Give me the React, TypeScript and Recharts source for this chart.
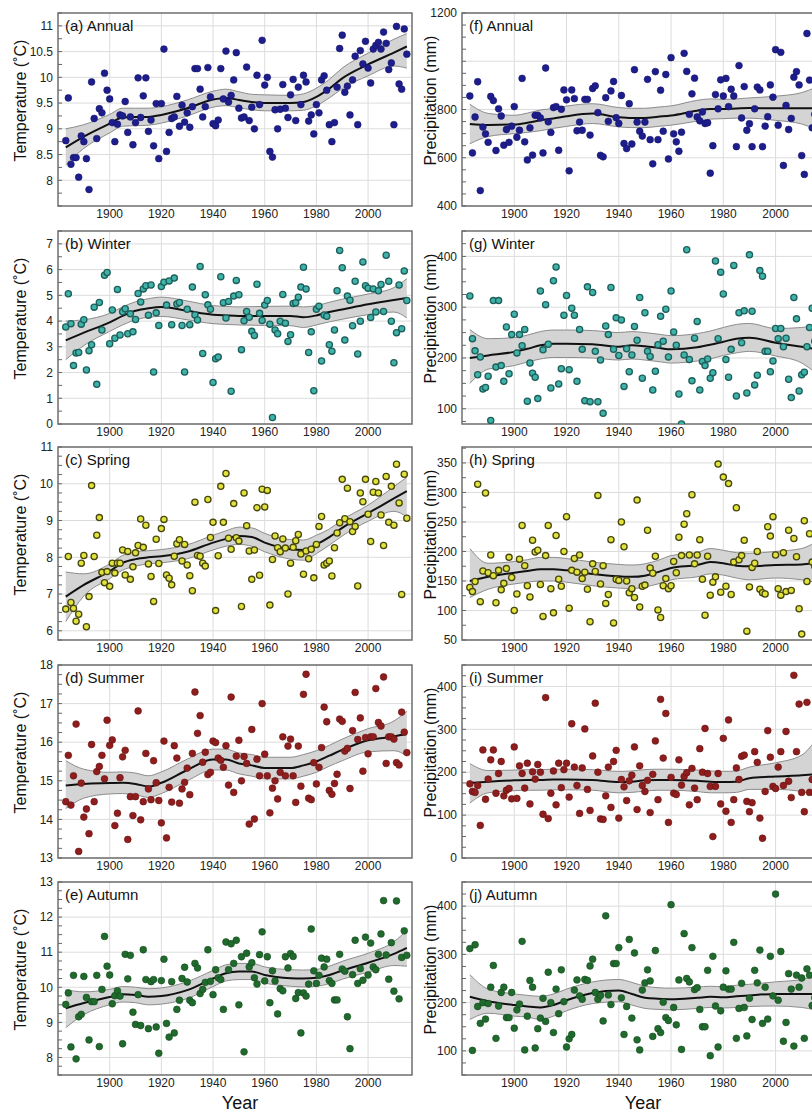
import React from 'react';
import { ComposedChart, Scatter, Line, Area, XAxis, YAxis, CartesianGrid, ReferenceArea } from 'recharts';

const FONT = '"Liberation Sans", Arial, Helvetica, sans-serif';
const FIRST_YEAR = 1883;
const X_DOMAIN: [number, number] = [1880, 2017];
const X_TICKS = [1900, 1920, 1940, 1960, 1980, 2000];
const KNOT_YEARS = [1883, 1890, 1900, 1905, 1910, 1915, 1920, 1930, 1940, 1945, 1950, 1955, 1960, 1970, 1975, 1980, 1985, 1990, 2000, 2010, 2015];

// ---------- Temperature (left column) ----------
const TEMP_ANNUAL = [
  8.77, 9.60, 8.31, 8.44, 8.44, 8.06, 8.86, 8.75, 8.42, 7.82,
  9.91, 9.20, 8.81, 9.39, 9.31, 10.08, 9.75, 9.58, 9.12, 8.75,
  9.09, 9.27, 9.25, 9.53, 8.93, 9.23, 8.69, 9.12, 9.99, 9.22,
  9.64, 9.99, 8.95, 9.17, 8.67, 9.49, 8.42, 9.49, 10.55, 8.56,
  8.93, 9.20, 9.23, 9.63, 9.05, 9.46, 9.13, 9.31, 9.03, 9.43,
  10.17, 10.17, 9.77, 9.23, 9.43, 10.19, 9.62, 9.10, 9.06, 9.17,
  10.17, 9.58, 10.51, 9.52, 9.65, 9.95, 10.48, 9.40, 9.21, 9.23,
  10.20, 9.16, 9.42, 9.00, 10.04, 9.47, 10.72, 9.85, 10.00, 8.56,
  8.45, 9.37, 9.00, 9.38, 9.86, 9.40, 9.22, 9.66, 9.96, 9.16,
  9.81, 9.47, 10.04, 9.91, 9.15, 9.27, 8.90, 9.47, 9.31, 9.95,
  10.03, 9.75, 9.08, 8.75, 9.12, 9.81, 10.56, 10.82, 9.71, 9.83,
  9.27, 9.95, 10.41, 9.08, 10.52, 10.26, 10.70, 10.18, 9.89, 10.55,
  10.62, 10.68, 10.55, 10.88, 10.66, 10.15, 10.28, 9.08, 10.99, 9.87,
  9.77, 10.94, 10.45,
];
const TEMP_ANNUAL_FIT = [8.64, 8.85, 9.10, 9.22, 9.23, 9.23, 9.27, 9.40, 9.57, 9.60, 9.56, 9.52, 9.50, 9.50, 9.52, 9.62, 9.78, 9.98, 10.25, 10.48, 10.60];
const TEMP_ANNUAL_LO = [8.30, 8.62, 8.92, 9.05, 9.06, 9.07, 9.11, 9.25, 9.42, 9.45, 9.41, 9.37, 9.35, 9.35, 9.36, 9.45, 9.60, 9.78, 10.03, 10.22, 10.18];
const TEMP_ANNUAL_HI = [9.00, 9.08, 9.28, 9.40, 9.40, 9.40, 9.43, 9.56, 9.73, 9.77, 9.72, 9.67, 9.66, 9.65, 9.68, 9.79, 9.96, 10.18, 10.47, 10.74, 10.85];

const TEMP_WINTER = [
  3.77, 5.06, 3.90, 2.27, 2.76, 2.78, 3.88, 4.05, 2.10, 2.85,
  3.08, 4.54, 1.54, 4.72, 3.65, 5.78, 5.89, 3.12, 4.43, 3.33,
  5.23, 3.46, 4.36, 4.48, 3.51, 4.28, 3.58, 4.06, 5.07, 4.74,
  5.25, 5.37, 4.23, 5.40, 2.02, 4.32, 3.83, 5.34, 5.51, 4.62,
  5.56, 3.86, 5.67, 4.66, 4.72, 3.83, 2.02, 4.46, 3.86, 5.32,
  4.24, 4.04, 6.12, 2.74, 5.02, 4.63, 4.46, 1.61, 2.54, 2.60,
  5.72, 4.71, 4.12, 4.76, 1.27, 4.97, 5.58, 5.02, 2.89, 4.01,
  4.37, 4.15, 3.60, 3.44, 5.43, 4.30, 4.02, 4.62, 4.80, 3.88,
  0.25, 3.65, 3.51, 3.99, 5.03, 3.92, 3.21, 3.47, 4.68, 4.71,
  4.93, 5.32, 6.09, 5.25, 2.78, 3.58, 1.29, 4.46, 4.58, 2.45,
  4.24, 4.19, 3.08, 2.83, 3.65, 5.18, 6.74, 6.07, 3.26, 4.97,
  4.81, 3.82, 5.55, 2.72, 3.99, 6.30, 5.37, 5.28, 4.14, 5.25,
  4.35, 5.18, 5.42, 4.37, 6.56, 5.55, 3.99, 2.38, 3.55, 5.40,
  3.70, 5.95, 4.80,
];
const TEMP_WINTER_FIT = [3.25, 3.55, 3.95, 4.20, 4.40, 4.50, 4.55, 4.40, 4.25, 4.22, 4.20, 4.20, 4.20, 4.20, 4.15, 4.22, 4.35, 4.45, 4.65, 4.82, 4.90];
const TEMP_WINTER_LO = [2.50, 3.05, 3.60, 3.85, 4.05, 4.15, 4.18, 4.05, 3.90, 3.87, 3.85, 3.84, 3.83, 3.82, 3.75, 3.85, 3.97, 4.07, 4.25, 4.35, 4.12];
const TEMP_WINTER_HI = [4.00, 4.05, 4.30, 4.55, 4.75, 4.87, 4.93, 4.78, 4.60, 4.57, 4.55, 4.56, 4.57, 4.58, 4.55, 4.60, 4.73, 4.85, 5.05, 5.30, 5.65];

const TEMP_SPRING = [
  6.59, 8.02, 6.77, 6.61, 6.26, 6.45, 7.84, 8.05, 6.11, 6.93,
  9.95, 8.02, 8.60, 9.08, 7.59, 7.31, 7.61, 7.21, 7.84, 7.57,
  7.84, 7.84, 8.20, 7.52, 8.16, 7.40, 7.74, 8.12, 8.32, 9.04,
  8.27, 8.87, 7.82, 7.48, 6.80, 8.49, 7.83, 8.78, 9.03, 7.52,
  7.43, 7.25, 8.03, 8.37, 8.48, 7.90, 8.35, 7.79, 7.50, 7.09,
  9.50, 8.05, 8.03, 7.84, 7.76, 9.57, 8.54, 8.95, 6.55, 8.04,
  9.93, 8.95, 10.28, 8.52, 8.22, 9.46, 8.53, 8.44, 6.66, 9.75,
  8.86, 8.17, 7.40, 8.20, 9.35, 7.51, 9.85, 9.37, 9.82, 6.70,
  7.94, 8.58, 8.26, 8.15, 8.50, 8.25, 7.00, 7.84, 8.27, 8.45,
  8.62, 8.09, 7.54, 8.17, 7.96, 8.22, 7.44, 8.35, 8.84, 9.11,
  7.79, 7.84, 7.90, 7.49, 8.26, 8.66, 8.94, 10.12, 9.05, 9.88,
  8.97, 8.70, 8.84, 7.22, 9.75, 9.51, 10.12, 9.17, 8.43, 9.77,
  10.06, 9.75, 9.15, 8.32, 10.20, 8.95, 9.93, 8.87, 10.53, 9.48,
  6.99, 10.26, 9.06,
];
const TEMP_SPRING_FIT = [6.93, 7.25, 7.62, 7.85, 7.95, 8.00, 8.03, 8.15, 8.40, 8.50, 8.58, 8.55, 8.40, 8.22, 8.20, 8.35, 8.55, 8.80, 9.20, 9.60, 9.80];
const TEMP_SPRING_LO = [6.25, 6.95, 7.42, 7.65, 7.76, 7.82, 7.85, 7.96, 8.20, 8.30, 8.35, 8.30, 8.15, 7.95, 7.92, 8.10, 8.33, 8.58, 8.98, 9.25, 9.10];
const TEMP_SPRING_HI = [7.60, 7.55, 7.82, 8.05, 8.15, 8.18, 8.21, 8.34, 8.60, 8.72, 8.82, 8.80, 8.65, 8.48, 8.47, 8.60, 8.77, 9.02, 9.42, 9.92, 10.18];

const TEMP_SUMMER = [
  14.46, 15.66, 14.37, 15.13, 16.47, 13.17, 14.94, 14.06, 14.27, 13.63,
  15.94, 14.46, 15.24, 15.37, 15.66, 15.05, 16.57, 15.92, 16.06, 13.84,
  14.16, 15.08, 15.62, 15.79, 13.48, 14.59, 14.10, 14.59, 16.81, 13.99,
  14.46, 15.71, 14.79, 14.51, 15.52, 14.95, 14.49, 13.91, 16.03, 13.52,
  14.83, 14.45, 15.91, 15.59, 14.42, 14.79, 14.96, 15.33, 14.64, 15.71,
  17.30, 16.23, 16.69, 15.48, 15.74, 15.16, 15.22, 16.03, 15.99, 15.59,
  15.53, 15.35, 15.91, 14.89, 17.17, 14.70, 15.64, 16.05, 15.00, 15.63,
  15.45, 13.88, 16.33, 14.01, 15.56, 15.13, 17.00, 15.69, 15.13, 14.17,
  14.81, 15.00, 14.53, 15.22, 16.14, 15.13, 15.90, 16.08, 15.13, 14.44,
  15.90, 14.86, 17.24, 17.76, 14.55, 14.51, 15.47, 14.92, 15.35, 15.86,
  16.91, 16.53, 14.75, 14.65, 14.93, 15.17, 16.60, 16.54, 15.77, 15.84,
  14.80, 16.30, 17.29, 16.07, 16.63, 15.25, 16.12, 15.70, 16.14, 16.14,
  17.39, 16.51, 16.42, 17.69, 15.45, 16.14, 16.14, 16.08, 15.47, 15.41,
  16.78, 16.26, 15.73,
];
const TEMP_SUMMER_FIT = [14.88, 14.92, 14.94, 14.95, 14.92, 14.85, 14.95, 15.28, 15.55, 15.55, 15.45, 15.40, 15.33, 15.33, 15.40, 15.50, 15.65, 15.80, 16.05, 16.15, 16.22];
const TEMP_SUMMER_LO = [14.28, 14.55, 14.66, 14.67, 14.64, 14.57, 14.67, 15.00, 15.28, 15.28, 15.18, 15.12, 15.05, 15.05, 15.12, 15.22, 15.38, 15.52, 15.75, 15.78, 15.65];
const TEMP_SUMMER_HI = [15.52, 15.30, 15.22, 15.23, 15.20, 15.13, 15.23, 15.56, 15.82, 15.82, 15.72, 15.68, 15.61, 15.61, 15.68, 15.78, 15.92, 16.08, 16.35, 16.55, 16.80];

const TEMP_AUTUMN = [
  9.51, 9.84, 8.30, 10.34, 7.96, 9.16, 9.23, 10.31, 9.71, 8.50,
  9.59, 9.59, 10.34, 8.31, 9.94, 11.45, 10.60, 10.35, 9.53, 9.76,
  9.90, 9.75, 8.39, 10.94, 10.24, 10.91, 9.29, 8.94, 9.79, 8.91,
  11.07, 10.22, 8.82, 10.16, 10.22, 8.87, 8.12, 10.19, 10.80, 8.97,
  8.58, 10.16, 8.70, 9.37, 9.63, 10.25, 10.57, 10.15, 9.63, 9.56,
  10.68, 10.55, 9.82, 9.94, 10.14, 11.07, 10.17, 9.79, 10.50, 10.27,
  10.22, 9.37, 11.29, 10.50, 11.24, 10.68, 11.34, 9.50, 10.87, 8.16,
  10.97, 10.58, 10.70, 10.27, 10.09, 10.93, 11.58, 10.18, 10.87, 9.56,
  10.47, 10.18, 9.24, 9.96, 9.90, 10.87, 10.55, 10.96, 10.88, 9.68,
  9.85, 8.70, 9.84, 9.75, 10.09, 11.66, 10.47, 10.11, 10.34, 10.83,
  10.58, 10.80, 10.19, 10.11, 9.64, 9.64, 10.94, 10.52, 10.46, 9.16,
  8.25, 10.36, 11.34, 10.11, 10.53, 10.20, 11.43, 10.35, 11.26, 10.58,
  10.50, 10.94, 11.52, 12.47, 10.92, 10.23, 11.27, 9.89, 12.46, 9.67,
  10.85, 11.61, 10.91,
];
const TEMP_AUTUMN_FIT = [9.40, 9.55, 9.72, 9.80, 9.78, 9.73, 9.75, 9.92, 10.25, 10.40, 10.45, 10.45, 10.35, 10.26, 10.25, 10.27, 10.35, 10.48, 10.70, 10.95, 11.12];
const TEMP_AUTUMN_LO = [8.85, 9.22, 9.50, 9.58, 9.56, 9.50, 9.52, 9.68, 10.02, 10.18, 10.22, 10.22, 10.12, 10.03, 10.01, 10.03, 10.10, 10.23, 10.43, 10.62, 10.60];
const TEMP_AUTUMN_HI = [9.93, 9.87, 9.94, 10.02, 10.00, 9.96, 9.98, 10.16, 10.48, 10.64, 10.68, 10.68, 10.58, 10.50, 10.49, 10.51, 10.60, 10.74, 10.97, 11.30, 11.62];

// ---------- Precipitation (right column) ----------
const PREC_ANNUAL = [
  856, 620, 769, 915, 464, 727, 699, 664, 854, 837,
  630, 803, 773, 652, 717, 664, 731, 812, 685, 714,
  929, 666, 591, 724, 611, 776, 776, 765, 620, 972,
  749, 705, 808, 812, 631, 801, 881, 840, 546, 881,
  845, 712, 748, 714, 842, 842, 694, 887, 898, 787,
  610, 604, 849, 751, 877, 916, 766, 742, 858, 659,
  638, 824, 657, 965, 748, 710, 690, 748, 925, 675,
  575, 957, 675, 880, 710, 945, 595, 1015, 699, 666,
  627, 706, 1033, 958, 780, 865, 930, 769, 753, 790,
  742, 745, 536, 650, 862, 803, 923, 856, 929, 812,
  884, 856, 646, 982, 765, 895, 714, 741, 646, 803,
  893, 881, 646, 731, 770, 902, 851, 1048, 735, 1037,
  568, 817, 717, 763, 934, 957, 902, 609, 531, 1115,
  922, 724, 780,
];
const PREC_ANNUAL_FIT = [740, 736, 738, 745, 755, 763, 772, 783, 768, 765, 765, 770, 775, 795, 802, 802, 804, 806, 805, 805, 805];
const PREC_ANNUAL_LO = [658, 688, 700, 705, 712, 722, 730, 742, 728, 725, 725, 730, 735, 752, 760, 762, 764, 764, 755, 740, 720];
const PREC_ANNUAL_HI = [822, 784, 776, 785, 798, 804, 814, 824, 808, 805, 805, 810, 815, 838, 844, 842, 844, 848, 855, 870, 890];

const PREC_WINTER = [
  322, 238, 214, 167, 202, 139, 142, 164, 77, 313,
  182, 313, 185, 154, 261, 169, 246, 286, 210, 246,
  224, 256, 115, 190, 170, 162, 120, 332, 216, 305,
  227, 141, 352, 379, 149, 179, 284, 323, 177, 298,
  284, 154, 256, 217, 116, 340, 114, 329, 213, 114,
  196, 91, 263, 246, 339, 217, 279, 205, 275, 144,
  218, 173, 206, 262, 235, 319, 160, 289, 213, 203,
  137, 174, 226, 282, 233, 296, 202, 332, 251, 225,
  129, 70, 206, 413, 197, 155, 239, 272, 137, 193,
  185, 198, 160, 171, 391, 238, 369, 326, 197, 162,
  217, 382, 125, 289, 230, 293, 131, 403, 292, 147,
  166, 372, 361, 213, 213, 173, 194, 258, 238, 258,
  222, 239, 158, 122, 319, 277, 135, 167, 172, 222,
  260, 298, 233,
];
const PREC_WINTER_FIT = [200, 205, 212, 218, 225, 228, 228, 227, 222, 225, 223, 220, 217, 221, 226, 232, 238, 240, 230, 222, 218];
const PREC_WINTER_LO = [150, 178, 185, 192, 198, 201, 201, 200, 196, 198, 196, 193, 190, 194, 198, 205, 210, 213, 204, 190, 172];
const PREC_WINTER_HI = [256, 238, 240, 245, 252, 255, 255, 254, 250, 252, 250, 247, 244, 248, 253, 260, 266, 268, 258, 260, 265];

const PREC_SPRING = [
  139, 132, 149, 314, 115, 167, 299, 164, 194, 159,
  113, 168, 135, 146, 171, 190, 156, 100, 128, 187,
  244, 176, 142, 123, 219, 199, 202, 144, 90, 193,
  244, 137, 96, 227, 153, 141, 200, 259, 104, 168,
  188, 165, 194, 154, 165, 136, 81, 179, 166, 295,
  145, 176, 112, 127, 220, 79, 153, 151, 250, 208,
  150, 130, 137, 122, 287, 106, 141, 143, 236, 172,
  163, 192, 101, 88, 142, 154, 137, 142, 183, 164,
  224, 193, 246, 264, 194, 296, 179, 194, 220, 153,
  92, 192, 126, 148, 157, 348, 131, 326, 141, 315,
  127, 182, 274, 186, 193, 219, 65, 140, 173, 180,
  200, 136, 130, 128, 242, 226, 259, 194, 137, 126,
  198, 132, 236, 134, 222, 191, 103, 60, 252, 149,
  230, 182, 175,
];
const PREC_SPRING_FIT = [150, 157, 164, 167, 170, 170, 168, 162, 158, 157, 159, 165, 172, 177, 182, 180, 176, 175, 177, 178, 180];
const PREC_SPRING_LO = [122, 136, 145, 148, 150, 150, 148, 142, 138, 137, 140, 145, 152, 157, 162, 160, 155, 152, 155, 152, 148];
const PREC_SPRING_HI = [205, 180, 183, 186, 190, 190, 188, 182, 178, 177, 179, 185, 193, 198, 205, 202, 198, 197, 200, 205, 215];

const PREC_SUMMER = [
  173, 155, 153, 169, 76, 252, 137, 184, 229, 252,
  151, 197, 225, 145, 158, 162, 138, 259, 139, 215,
  197, 163, 221, 126, 201, 184, 218, 200, 102, 374,
  92, 151, 203, 124, 221, 164, 206, 221, 142, 313,
  212, 169, 104, 210, 301, 160, 111, 238, 361, 200,
  91, 90, 145, 212, 118, 225, 251, 93, 183, 166,
  134, 180, 193, 259, 113, 215, 169, 155, 181, 106,
  195, 273, 136, 370, 233, 337, 83, 188, 151, 148,
  229, 170, 190, 199, 124, 209, 163, 136, 255, 200,
  302, 197, 167, 50, 167, 197, 126, 279, 109, 322,
  83, 136, 210, 183, 237, 240, 132, 108, 129, 248,
  223, 93, 46, 155, 297, 235, 167, 162, 212, 248,
  169, 295, 179, 141, 426, 248, 359, 153, 108, 363,
  153, 183, 150,
];
const PREC_SUMMER_FIT = [175, 178, 181, 182, 182, 183, 183, 182, 177, 178, 181, 182, 182, 180, 178, 177, 178, 186, 190, 193, 195];
const PREC_SUMMER_LO = [128, 152, 157, 158, 158, 159, 159, 158, 152, 153, 156, 158, 158, 155, 152, 152, 153, 160, 160, 155, 148];
const PREC_SUMMER_HI = [220, 204, 205, 206, 206, 207, 207, 206, 202, 203, 206, 207, 207, 205, 203, 202, 203, 212, 222, 240, 272];

const PREC_AUTUMN = [
  312, 101, 320, 192, 157, 200, 166, 198, 232, 277,
  126, 193, 221, 232, 169, 169, 221, 147, 185, 197,
  327, 102, 172, 246, 232, 106, 146, 168, 209, 161,
  263, 200, 138, 228, 177, 268, 202, 108, 125, 134,
  226, 247, 214, 207, 248, 246, 276, 290, 221, 207,
  215, 162, 380, 216, 196, 281, 281, 314, 210, 134,
  192, 331, 168, 303, 123, 102, 226, 241, 268, 245,
  130, 308, 146, 138, 201, 169, 163, 403, 190, 154,
  247, 103, 343, 250, 243, 314, 227, 231, 186, 150,
  150, 267, 90, 296, 193, 108, 183, 232, 266, 228,
  228, 325, 126, 188, 240, 190, 131, 209, 165, 267,
  241, 309, 157, 232, 166, 296, 214, 425, 205, 306,
  120, 159, 260, 228, 110, 257, 232, 251, 126, 270,
  257, 194, 210,
];
const PREC_AUTUMN_FIT = [212, 203, 195, 192, 190, 195, 205, 220, 225, 218, 210, 208, 207, 210, 212, 211, 213, 215, 218, 218, 218];
const PREC_AUTUMN_LO = [165, 178, 172, 170, 165, 172, 183, 198, 202, 195, 188, 186, 185, 188, 190, 189, 190, 192, 193, 190, 185];
const PREC_AUTUMN_HI = [258, 228, 218, 215, 213, 218, 228, 243, 248, 242, 234, 231, 230, 232, 234, 233, 236, 238, 243, 248, 255];

// ---------- Axis ticks ----------
const TICKS_A = [8, 8.5, 9, 9.5, 10, 10.5, 11];
const TICKS_B = [0, 1, 2, 3, 4, 5, 6, 7];
const TICKS_C = [6, 7, 8, 9, 10, 11];
const TICKS_D = [13, 14, 15, 16, 17, 18];
const TICKS_E = [8, 9, 10, 11, 12, 13];
const TICKS_F = [400, 600, 800, 1000, 1200];
const TICKS_G = [100, 200, 300, 400];
const TICKS_H = [50, 100, 150, 200, 250, 300, 350];
const TICKS_I = [0, 100, 200, 300, 400];
const TICKS_J = [100, 200, 300, 400];

const MARGIN_TOP = 10;
const PLOT_H = 193;
const XAXIS_H = 22;
const ROW_TOPS = [13, 231, 447, 665, 882];

type PanelDef = {
  title: string;
  yLabel: string;
  values: number[];
  fit: number[];
  lo: number[];
  hi: number[];
  domain: [number, number];
  major: number[];
  minorStep: number;
  hidden?: number[];
  fill: string;
  stroke: string;
  strokeWidth: number;
  r: number;
  col: 0 | 1;
  row: number;
};

const PANELS: PanelDef[] = [
  { title: '(a) Annual', yLabel: 'Temperature (˚C)', values: TEMP_ANNUAL, fit: TEMP_ANNUAL_FIT, lo: TEMP_ANNUAL_LO, hi: TEMP_ANNUAL_HI, domain: [7.5, 11.25], major: TICKS_A, minorStep: 0.25, fill: '#1d1d8c', stroke: '#15156e', strokeWidth: 0.6, r: 3.4, col: 0, row: 0 },
  { title: '(b) Winter', yLabel: 'Temperature (˚C)', values: TEMP_WINTER, fit: TEMP_WINTER_FIT, lo: TEMP_WINTER_LO, hi: TEMP_WINTER_HI, domain: [0, 7.5], major: TICKS_B, minorStep: 0.5, fill: '#3fb3aa', stroke: '#1d5f5a', strokeWidth: 1.3, r: 3.1, col: 0, row: 1 },
  { title: '(c) Spring', yLabel: 'Temperature (˚C)', values: TEMP_SPRING, fit: TEMP_SPRING_FIT, lo: TEMP_SPRING_LO, hi: TEMP_SPRING_HI, domain: [5.75, 11], major: TICKS_C, minorStep: 0.25, fill: '#e2e23c', stroke: '#46460e', strokeWidth: 1.3, r: 3.1, col: 0, row: 2 },
  { title: '(d) Summer', yLabel: 'Temperature (˚C)', values: TEMP_SUMMER, fit: TEMP_SUMMER_FIT, lo: TEMP_SUMMER_LO, hi: TEMP_SUMMER_HI, domain: [13, 18], major: TICKS_D, minorStep: 0.25, fill: '#8e1d1d', stroke: '#6a1212', strokeWidth: 0.6, r: 3.4, col: 0, row: 3 },
  { title: '(e) Autumn', yLabel: 'Temperature (˚C)', values: TEMP_AUTUMN, fit: TEMP_AUTUMN_FIT, lo: TEMP_AUTUMN_LO, hi: TEMP_AUTUMN_HI, domain: [7.5, 13], major: TICKS_E, minorStep: 0.25, fill: '#1f6a2c', stroke: '#144a1d', strokeWidth: 0.6, r: 3.4, col: 0, row: 4 },
  { title: '(f) Annual', yLabel: 'Precipitation (mm)', values: PREC_ANNUAL, fit: PREC_ANNUAL_FIT, lo: PREC_ANNUAL_LO, hi: PREC_ANNUAL_HI, domain: [400, 1200], major: TICKS_F, minorStep: 50, hidden: [1000], fill: '#1d1d8c', stroke: '#15156e', strokeWidth: 0.6, r: 3.4, col: 1, row: 0 },
  { title: '(g) Winter', yLabel: 'Precipitation (mm)', values: PREC_WINTER, fit: PREC_WINTER_FIT, lo: PREC_WINTER_LO, hi: PREC_WINTER_HI, domain: [70, 450], major: TICKS_G, minorStep: 25, fill: '#3fb3aa', stroke: '#1d5f5a', strokeWidth: 1.3, r: 3.1, col: 1, row: 1 },
  { title: '(h) Spring', yLabel: 'Precipitation (mm)', values: PREC_SPRING, fit: PREC_SPRING_FIT, lo: PREC_SPRING_LO, hi: PREC_SPRING_HI, domain: [50, 377], major: TICKS_H, minorStep: 25, fill: '#e2e23c', stroke: '#46460e', strokeWidth: 1.3, r: 3.1, col: 1, row: 2 },
  { title: '(i) Summer', yLabel: 'Precipitation (mm)', values: PREC_SUMMER, fit: PREC_SUMMER_FIT, lo: PREC_SUMMER_LO, hi: PREC_SUMMER_HI, domain: [0, 450], major: TICKS_I, minorStep: 25, fill: '#8e1d1d', stroke: '#6a1212', strokeWidth: 0.6, r: 3.4, col: 1, row: 3 },
  { title: '(j) Autumn', yLabel: 'Precipitation (mm)', values: PREC_AUTUMN, fit: PREC_AUTUMN_FIT, lo: PREC_AUTUMN_LO, hi: PREC_AUTUMN_HI, domain: [50, 450], major: TICKS_J, minorStep: 25, fill: '#1f6a2c', stroke: '#144a1d', strokeWidth: 0.6, r: 3.4, col: 1, row: 4 },
];

const near = (a: number, b: number) => Math.abs(a - b) < 1e-6;

function buildTicks(domain: [number, number], major: number[], step: number): number[] {
  const out: number[] = [];
  const start = Math.ceil(domain[0] / step - 1e-9) * step;
  for (let v = start; v <= domain[1] + 1e-9; v += step) out.push(Number(v.toFixed(4)));
  major.forEach((m) => { if (!out.some((t) => near(t, m))) out.push(m); });
  return out.sort((a, b) => a - b);
}

function Panel({ p }: { p: PanelDef }) {
  const isBottom = p.row === 4;
  const chartLeft = p.col === 0 ? 0 : 404;
  const rightMargin = p.col === 0 ? 8 : 4;
  const width = 420;
  const bottomExtra = isBottom ? 34 : 0;
  const height = MARGIN_TOP + PLOT_H + XAXIS_H + bottomExtra;
  const knots = KNOT_YEARS.map((y, i) => ({ year: y, fit: p.fit[i], band: [p.lo[i], p.hi[i]] }));
  const pts = p.values.map((v, i) => ({ year: FIRST_YEAR + i, v }));
  const ticks = buildTicks(p.domain, p.major, p.minorStep);
  const fmt = (v: number) => {
    if (!p.major.some((m) => near(m, v))) return '';
    if (p.hidden && p.hidden.some((h) => near(h, v))) return '';
    return String(Number(v.toFixed(2)));
  };
  const yTitleX = p.col === 0 ? 20 : 26;
  const yTitleY = MARGIN_TOP + PLOT_H / 2 - 9;
  const dotShape = (props: any) => (
    <circle cx={props.cx} cy={props.cy} r={p.r} fill={p.fill} stroke={p.stroke} strokeWidth={p.strokeWidth} />
  );
  return (
    <div style={{ position: 'absolute', left: chartLeft, top: ROW_TOPS[p.row] - MARGIN_TOP, width, height }}>
      <ComposedChart
        width={width}
        height={height}
        data={knots}
        margin={{ top: MARGIN_TOP, right: rightMargin, bottom: bottomExtra, left: 0 }}
      >
        <CartesianGrid stroke="#dcdcdc" strokeWidth={1} horizontalValues={p.major} verticalValues={X_TICKS} />
        <XAxis
          type="number"
          dataKey="year"
          domain={X_DOMAIN}
          allowDataOverflow
          ticks={X_TICKS}
          interval={0}
          tickLine={false}
          axisLine={false}
          tickSize={0}
          tickMargin={3}
          height={XAXIS_H}
          tick={{ fill: '#222', fontSize: 12, fontFamily: FONT }}
        />
        <YAxis
          type="number"
          domain={p.domain}
          allowDataOverflow
          ticks={ticks}
          interval={0}
          tickFormatter={fmt}
          width={58}
          tickSize={-4}
          tickMargin={9}
          axisLine={false}
          tickLine={{ stroke: '#666', strokeWidth: 1 }}
          tick={{ fill: '#222', fontSize: 12, fontFamily: FONT }}
        />
        <Area
          type="monotone"
          dataKey="band"
          fill="#d4d4d4"
          fillOpacity={1}
          stroke="#8c8c8c"
          strokeWidth={1}
          dot={false}
          activeDot={false}
          isAnimationActive={false}
        />
        <Line type="monotone" dataKey="fit" stroke="#111" strokeWidth={2} dot={false} activeDot={false} isAnimationActive={false} />
        <Scatter data={pts} dataKey="v" shape={dotShape} isAnimationActive={false} />
        <ReferenceArea x1={X_DOMAIN[0]} x2={X_DOMAIN[1]} y1={p.domain[0]} y2={p.domain[1]} fill="none" fillOpacity={0} stroke="#6f6f6f" strokeWidth={1.5} ifOverflow="visible" />
        <text x={65} y={MARGIN_TOP + 18} fontSize={15} fontFamily={FONT} fill="#111">{p.title}</text>
        <text
          x={yTitleX}
          y={yTitleY}
          transform={`rotate(-90, ${yTitleX}, ${yTitleY})`}
          textAnchor="middle"
          dominantBaseline="central"
          fontSize={16}
          fontFamily={FONT}
          fill="#111"
        >
          {p.yLabel}
        </text>
        {isBottom ? (
          <text x={p.col === 0 ? 240 : 239} y={MARGIN_TOP + PLOT_H + 34} textAnchor="middle" fontSize={18} fontFamily={FONT} fill="#111">Year</text>
        ) : null}
      </ComposedChart>
    </div>
  );
}

export default function App() {
  return (
    <div style={{ position: 'absolute', left: 0, top: 0, width: 812, height: 1115, overflow: 'hidden', background: '#fff' }}>
      {PANELS.map((p) => (
        <Panel key={p.title} p={p} />
      ))}
    </div>
  );
}
